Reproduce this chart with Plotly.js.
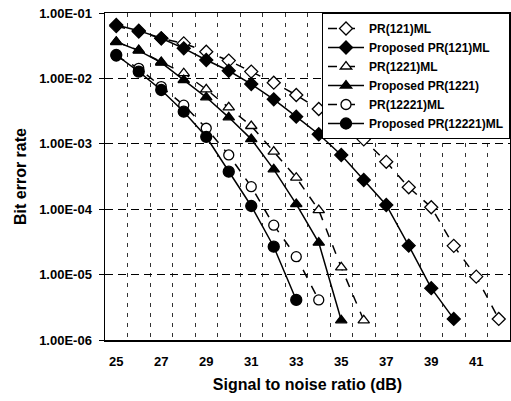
<!DOCTYPE html>
<html>
<head>
<meta charset="utf-8">
<script src="https://cdn.plot.ly/plotly-3.0.1.min.js"></script>
<style>html,body{margin:0;padding:0;background:#fff;}#chart{width:511px;height:401px;}</style>
</head>
<body>
<div id="chart"></div>
<script>
// Signal to noise ratio (dB)
const snr = [25,26,27,28,29,30,31,32,33,34,35,36,37,38,39,40,41,42];

// Bit error rates
const pr121 = [0.063,0.052,0.041,0.0343,0.0256,0.0187,0.0127,0.0086,0.00557,0.0034,0.00199,0.00117,5.3e-4,2.16e-4,1.07e-4,2.75e-5,9.3e-6,2.1e-6];
const prop121 = [0.0656,0.0537,0.041,0.0288,0.0191,0.0131,0.0082,0.00479,0.0026,0.0014,6.75e-4,2.8e-4,1.16e-4,2.77e-5,6.2e-6,2.1e-6];
const pr1221 = [0.036,0.027,0.0178,0.012,0.0068,0.00361,0.00187,7.6e-4,3.03e-4,9.7e-5,1.29e-5,2.0e-6];
const prop1221 = [0.0364,0.0266,0.0174,0.00946,0.00514,0.00254,0.00118,4.07e-4,1.2e-4,3.08e-5,2.0e-6];
const pr12221 = [0.022,0.01426,0.0075,0.0039,0.00173,6.75e-4,2.21e-4,5.7e-5,1.88e-5,4.1e-6];
const prop12221 = [0.0228,0.0127,0.00665,0.0031,0.00128,3.75e-4,1.12e-4,2.67e-5,4.1e-6];

const seriesNames = ['PR(121)ML','Proposed PR(121)ML','PR(1221)ML','Proposed PR(1221)','PR(12221)ML','Proposed PR(12221)ML'];
const xTickVals = [25,27,29,31,33,35,37,39,41];
const yTickVals = [1e-6,1e-5,1e-4,1e-3,1e-2,1e-1];
const yTickText = ['1.00E-06','1.00E-05','1.00E-04','1.00E-03','1.00E-02','1.00E-01'];

function mk(name, ys, sym, open, dashed, size){
  return {
    type:'scatter', mode:'lines+markers', name:name,
    x: snr.slice(0, ys.length), y: ys,
    line:{color:'#000', width: 1.5, dash: dashed?'dash':'solid'},
    marker:{symbol:sym, size:size, color: open?'#fff':'#000', line:{color:'#000', width:1.3}},
    cliponaxis:false
  };
}

const data = [
  mk(seriesNames[0], pr121, 'diamond', true, true, 10),
  mk(seriesNames[1], prop121, 'diamond', false, false, 10),
  mk(seriesNames[2], pr1221, 'triangle-up', true, true, 10),
  mk(seriesNames[3], prop1221, 'triangle-up', false, false, 10),
  mk(seriesNames[4], pr12221, 'circle', true, true, 10),
  mk(seriesNames[5], prop12221, 'circle', false, false, 11)
];

const minorGrid = [];
for (let v = 25.5; v < 42; v += 1) minorGrid.push(v);

const font = {family:'Liberation Sans, Arial, sans-serif', color:'#000'};

const layout = {
  width:511, height:401,
  margin:{l:105, r:1, t:13, b:61},
  paper_bgcolor:'#fff', plot_bgcolor:'#fff',
  font: Object.assign({size:13, weight:'bold'}, font),
  showlegend:true,
  legend:{
    x:1, y:1, xanchor:'right', yanchor:'top',
    bgcolor:'#fff', bordercolor:'#000', borderwidth:1,
    font: Object.assign({size:12, weight:'bold'}, font),
    tracegroupgap:0, itemwidth:36
  },
  xaxis:{
    range:[24.5,42.5], tickmode:'array', tickvals:xTickVals,
    showgrid:false, zeroline:false,
    showline:true, linecolor:'#000', linewidth:1.5, mirror:true,
    ticks:'', ticklabelstandoff:9,
    tickfont: Object.assign({size:13, weight:'bold'}, font),
    minor:{tickmode:'array', tickvals:minorGrid, showgrid:true, gridcolor:'#333', gridwidth:1, griddash:'4px,6px', ticks:''},
    title:{text:'Signal to noise ratio (dB)', font:Object.assign({size:16, weight:'bold'}, font), standoff:10}
  },
  yaxis:{
    type:'log', range:[-6,-1], tickmode:'array', tickvals:yTickVals, ticktext:yTickText,
    showgrid:true, gridcolor:'#000', gridwidth:1, griddash:'8px,5px',
    zeroline:false, showline:true, linecolor:'#000', linewidth:1.5, mirror:true,
    ticks:'outside', ticklen:5, tickcolor:'#000', ticklabelstandoff:4,
    tickfont: Object.assign({size:13, weight:'bold'}, font),
    title:{text:'Bit error rate', font:Object.assign({size:16, weight:'bold'}, font), standoff:8}
  }
};

Plotly.newPlot('chart', data, layout, {staticPlot:true, displayModeBar:false});
</script>
</body>
</html>
